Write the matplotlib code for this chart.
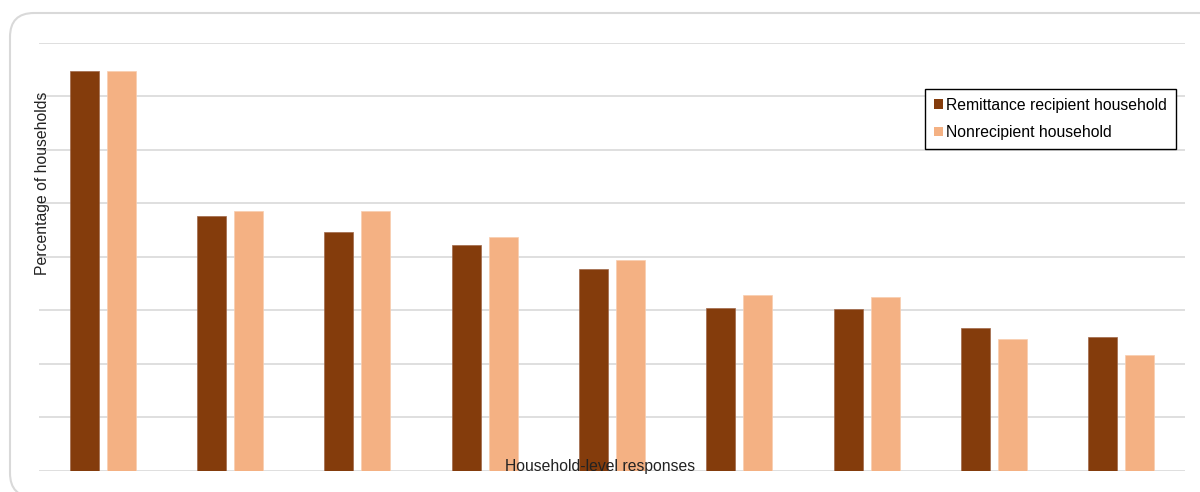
import matplotlib
matplotlib.use("Agg")
import matplotlib.pyplot as plt
import numpy as np
from matplotlib.patches import FancyBboxPatch, Patch
from matplotlib.transforms import IdentityTransform

plt.rcParams['font.family'] = ['Liberation Sans', 'DejaVu Sans']

# values (gridline units, no tick labels in the original)
groups = list(range(9))
recipient = [7.48, 4.77, 4.46, 4.22, 3.77, 3.05, 3.03, 2.67, 2.50]
nonrecipient = [7.48, 4.86, 4.85, 4.37, 3.94, 3.29, 3.24, 2.46, 2.16]
series_names = ['Remittance recipient household', 'Nonrecipient household']
dark = '#843C0C'
light = '#F4B183'

fig = plt.figure(figsize=(12, 4.92), dpi=100)
ax = fig.add_axes([39/1200, 21.3/492, 1146/1200, 427.7/492])

# rounded chart frame, in pixel coords (runs off the right and bottom edges)
frame = FancyBboxPatch((10, -5), 1214, 484, transform=IdentityTransform(),
                       boxstyle='round,pad=0,rounding_size=24',
                       facecolor='none', edgecolor='#d9d9d9', lw=1.5, clip_on=False)
fig.patches.append(frame)

x = np.array(groups)
w = 0.228
off = 0.145
ax.bar(x - off, recipient, w, color=dark, edgecolor='#a0684a', lw=0.5, zorder=3)
ax.bar(x + off, nonrecipient, w, color=light, edgecolor='#f8cdb0', lw=0.5, zorder=3)

ax.set_xlim(-0.5, 8.5)
ax.set_ylim(0, 8)
ax.set_yticks(np.arange(0, 9, 1))
ax.grid(axis='y', color='#d9d9d9', lw=1.2, zorder=0)
ax.tick_params(left=False, bottom=False, labelleft=False, labelbottom=False)
for s in ax.spines.values():
    s.set_visible(False)

fig.text(42/1200, 1 - 183/492, 'Percentage of households', rotation=90,
         ha='center', va='center', fontsize=11.3, color='#222222')
fig.text(600/1200, 1 - 467/492, 'Household-level responses',
         ha='center', va='center', fontsize=11.3, color='#222222', zorder=5)

handles = [Patch(facecolor=dark, edgecolor='none'), Patch(facecolor=light, edgecolor='none')]
leg = ax.legend(handles, series_names, loc='upper right',
                bbox_to_anchor=((1176-39)/1146, (470.7-89)/427.7),
                borderaxespad=0, fancybox=False, framealpha=1, edgecolor='black',
                fontsize=11.3, handlelength=0.55, handleheight=0.55, handletextpad=0.25,
                labelspacing=0.8, borderpad=0.55)
leg.get_frame().set_linewidth(1.0)

fig.savefig('out.png', dpi=100)
